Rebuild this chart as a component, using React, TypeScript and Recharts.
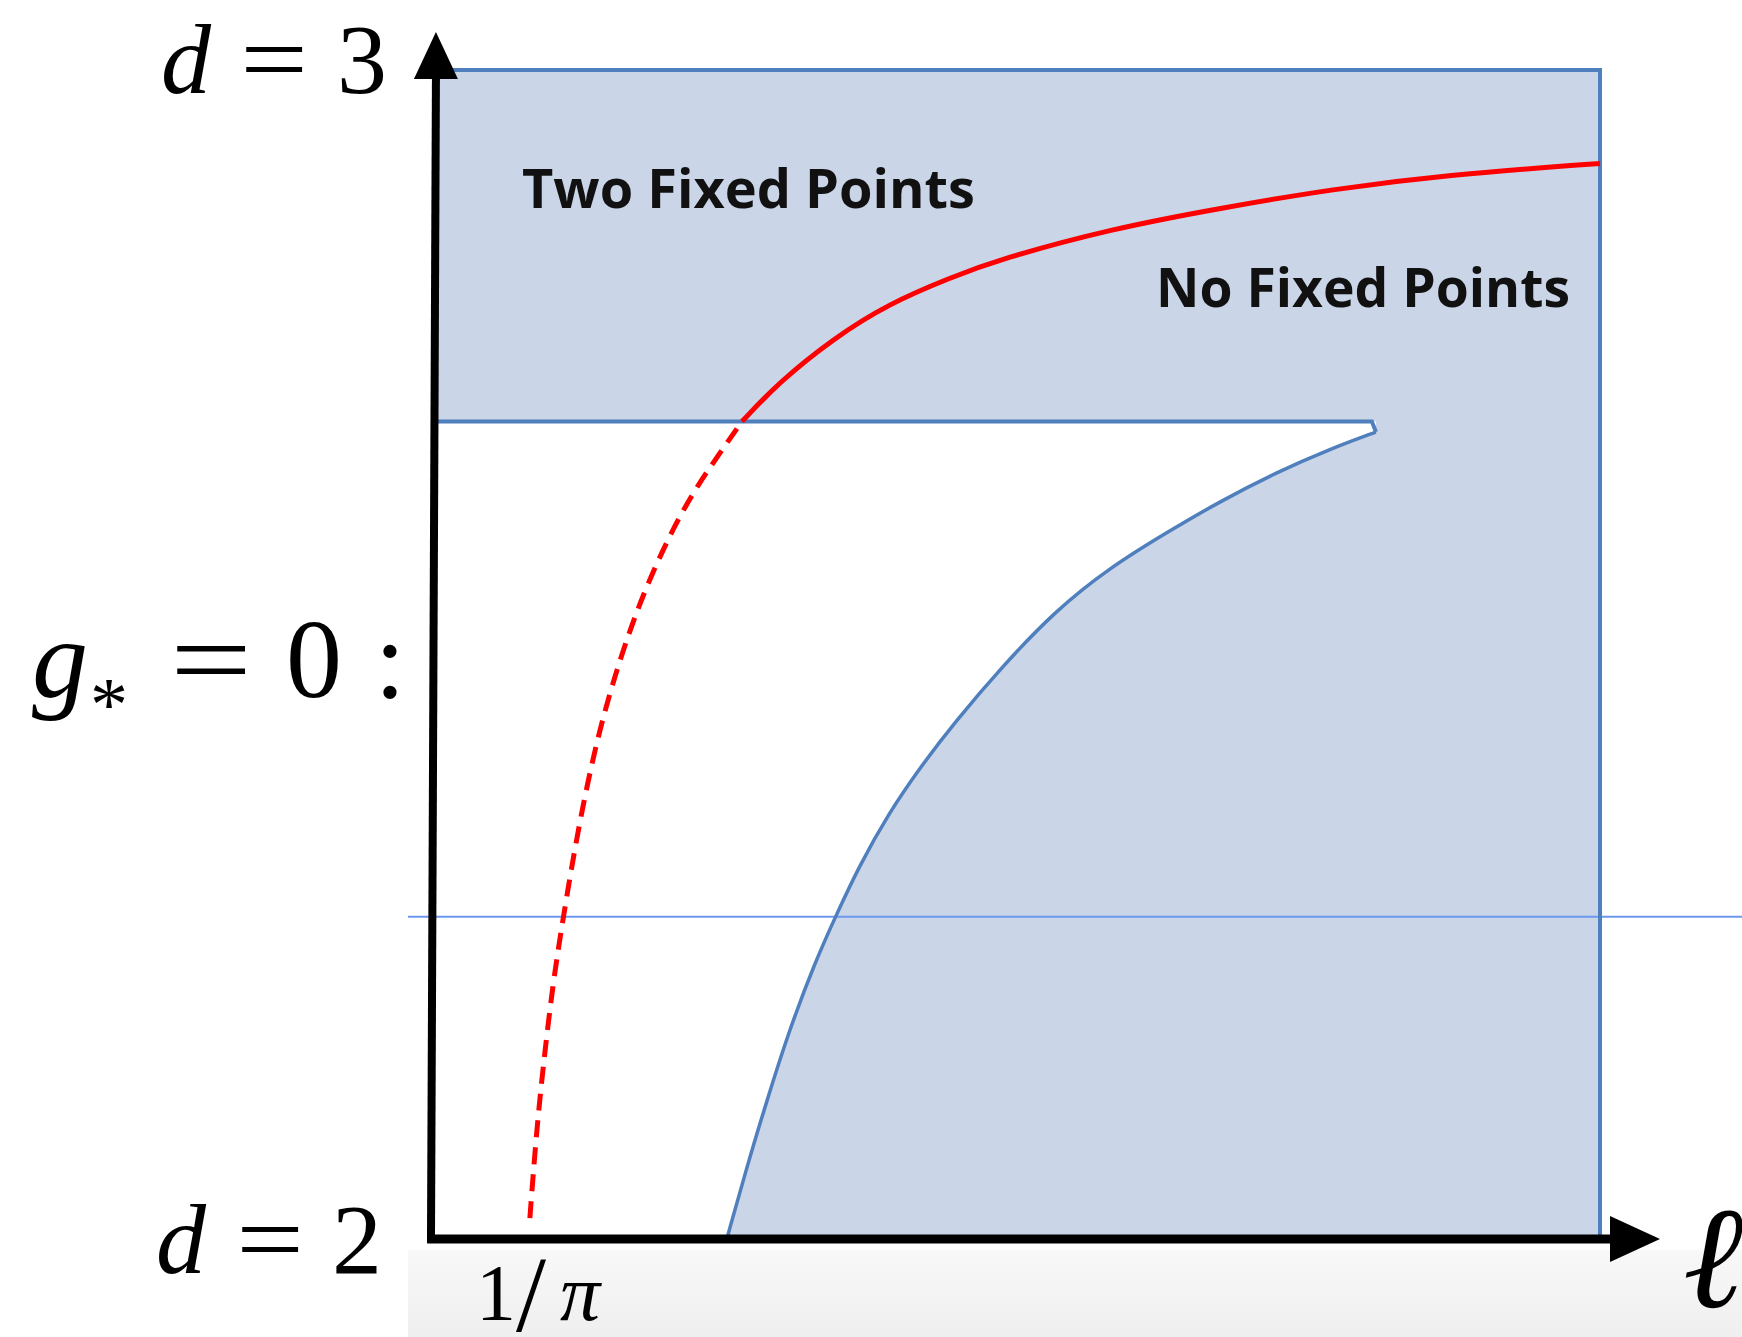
import React from 'react';
import {
    ComposedChart,
    Area,
    Line,
    XAxis,
    YAxis,
    ReferenceArea,
    ReferenceDot,
    Customized,
} from 'recharts';

// the chart works in (ell, d) units; the domains make the plot fill the whole picture
const W = 1742;
const H = 1337;
const ellDomain = [-1.4842, 4.4867];
const dDomain = [1.9152, 3.0599];

// region box and the two horizontal levels
const boxEll = [0, 4];
const boxD = [2, 3];
const dCross = 2.699; // top edge of the white pocket
const thinEll = [-0.086, 4.487];
const dThin = 2.275; // thin guide line

// red curve, dashed part (below the crossing)
const redDashedEll = [0.332, 0.353, 0.377, 0.411, 0.446, 0.497, 0.562, 0.641, 0.734, 0.853, 0.949, 1.059];
const redDashedD = [2.017, 2.086, 2.146, 2.218, 2.274, 2.35, 2.428, 2.497, 2.561, 2.623, 2.66, 2.699];

// red curve, solid part
const redSolidEll = [1.059, 1.183, 1.371, 1.563, 1.772, 1.943, 2.324, 2.704, 3.085, 3.465, 4.0];
const redSolidD = [2.699, 2.732, 2.77, 2.8, 2.822, 2.838, 2.864, 2.882, 2.898, 2.91, 2.92];

// blue boundary curve
const blueEll = [1.008, 1.076, 1.145, 1.217, 1.309, 1.385, 1.46, 1.563, 1.67, 1.79, 1.95, 2.133, 2.32, 2.515, 2.7, 2.896, 3.07, 3.232];
const blueD = [2.0, 2.061, 2.118, 2.175, 2.236, 2.278, 2.318, 2.364, 2.403, 2.442, 2.489, 2.537, 2.574, 2.604, 2.631, 2.656, 2.675, 2.69];

// horizontal edge with its small notch at the right end
const edgeEll = [0, 3.218, 3.232];
const edgeD = [2.699, 2.699, 2.69];

// the two arrows (axes)
const yAxisEll = [-0.007, 0.01];
const yAxisD = [1.9957, 2.993];
const yTip = { l: 0.01, d: 3.0325 };
const xAxisEll = [-0.02, 4.05];
const xAxisD = [1.9991, 1.9991];
const xTip = { l: 4.2057, d: 1.9991 };

// grey strip under the axis
const stripEll = [-0.086, 4.487];
const stripD = [1.9152, 1.9897];

const regionLabels = ['Two Fixed Points', 'No Fixed Points'];
const tickLabel = ['1', '/', 'π'];

const FILL = '#cad5e8';
const EDGE = '#4f7fbc';
const RED = '#ff0000';
const serif = "'Liberation Serif', 'DejaVu Serif', serif";

const zip = (ls: number[], ds: number[]) => ls.map((l, i) => ({ l, d: ds[i] }));

const boxData = boxEll.map((l) => ({ l, band: [boxD[0], boxD[1]] }));
// the corner point is repeated so the basis curve keeps the sharp corner there
const whiteData = [
    { l: 0, band: [2, dCross] },
    { l: blueEll[0], band: [blueD[0], dCross] },
    { l: blueEll[0], band: [blueD[0], dCross] },
    ...blueEll.map((l, i) => ({ l, band: [blueD[i], dCross] })),
];
const borderData = [
    { l: boxEll[0], d: boxD[1] },
    { l: boxEll[1], d: boxD[1] },
    { l: boxEll[1], d: boxD[0] },
];

function Glyph({ x, y, size, italic, sx = 1, children }: any) {
    return (
        <text
            transform={`translate(${x},${y}) scale(${sx},1)`}
            textAnchor="middle"
            fontFamily={serif}
            fontSize={size}
            fontStyle={italic ? 'italic' : 'normal'}
            fill="#000"
        >
            {children}
        </text>
    );
}

function Defs() {
    return (
        <defs>
            <linearGradient id="greyFade" x1="0" y1="0" x2="0" y2="1">
                <stop offset="0%" stopColor="#f8f8f8" />
                <stop offset="100%" stopColor="#efefef" />
            </linearGradient>
        </defs>
    );
}

// texts sit in an svg laid over the chart so the shaded areas never hide them
function Labels() {
    return (
        <svg
            width={W}
            height={H}
            style={{ position: 'absolute', left: 0, top: 0, pointerEvents: 'none' }}
        >
            {/* d = 3 */}
            <Glyph x={186} y={93} size={100} italic>d</Glyph>
            <Glyph x={274} y={93} size={100} sx={1.2}>=</Glyph>
            <Glyph x={362} y={93} size={100}>3</Glyph>
            {/* g* = 0 : */}
            <Glyph x={60} y={697} size={112} italic>g</Glyph>
            <Glyph x={109} y={730} size={76}>*</Glyph>
            <Glyph x={211} y={697} size={112} sx={1.3}>=</Glyph>
            <Glyph x={314} y={697} size={112}>0</Glyph>
            <Glyph x={390} y={697} size={112}>:</Glyph>
            {/* d = 2 */}
            <Glyph x={181} y={1273} size={100} italic>d</Glyph>
            <Glyph x={270} y={1273} size={100} sx={1.2}>=</Glyph>
            <Glyph x={357} y={1273} size={100}>2</Glyph>
            {/* 1/pi */}
            <Glyph x={496} y={1320} size={80}>{tickLabel[0]}</Glyph>
            <Glyph x={531} y={1331} size={108}>{tickLabel[1]}</Glyph>
            <Glyph x={580} y={1320} size={80} italic>{tickLabel[2]}</Glyph>
            {/* ell */}
            <text x={1683} y={1307} fontFamily={serif} fontSize={145} fontStyle="italic" fill="#000">
                ℓ
            </text>
            <text
                x={522}
                y={208}
                fontFamily="'Open Sans', sans-serif"
                fontWeight={700}
                fontSize={54}
                textLength={453}
                lengthAdjust="spacingAndGlyphs"
                fill="#111"
            >
                {regionLabels[0]}
            </text>
            <text
                x={1156}
                y={307}
                fontFamily="'Open Sans', sans-serif"
                fontWeight={700}
                fontSize={54}
                textLength={414}
                lengthAdjust="spacingAndGlyphs"
                fill="#111"
            >
                {regionLabels[1]}
            </text>
        </svg>
    );
}

const UpArrow = ({ cx, cy }: any) => (
    <polygon points={`${cx},${cy} ${cx - 22},${cy + 47} ${cx + 22},${cy + 47}`} fill="#000" />
);
const RightArrow = ({ cx, cy }: any) => (
    <polygon points={`${cx},${cy} ${cx - 50},${cy - 23} ${cx - 50},${cy + 23}`} fill="#000" />
);

export default function App() {
    return (
        <div style={{ position: 'absolute', left: 0, top: 0, width: W, height: H, background: '#fff' }}>
            <ComposedChart width={W} height={H} margin={{ top: 0, right: 0, bottom: 0, left: 0 }}>
                <XAxis type="number" dataKey="l" domain={ellDomain} allowDataOverflow hide />
                <YAxis type="number" domain={dDomain} allowDataOverflow hide />
                <Customized component={Defs} />
                <ReferenceArea
                    x1={stripEll[0]}
                    x2={stripEll[1]}
                    y1={stripD[0]}
                    y2={stripD[1]}
                    fill="url(#greyFade)"
                    fillOpacity={1}
                    stroke="none"
                    ifOverflow="visible"
                />
                {/* shaded box, then the white pocket on top */}
                <Area
                    data={boxData}
                    dataKey="band"
                    type="linear"
                    fill={FILL}
                    fillOpacity={1}
                    stroke="none"
                    isAnimationActive={false}
                />
                <Area
                    data={whiteData}
                    dataKey="band"
                    type="basis"
                    fill="#ffffff"
                    fillOpacity={1}
                    stroke="none"
                    isAnimationActive={false}
                />
                <Line
                    data={zip(thinEll, [dThin, dThin])}
                    dataKey="d"
                    type="linear"
                    stroke="#6b98ee"
                    strokeWidth={2}
                    dot={false}
                    activeDot={false}
                    isAnimationActive={false}
                />
                <Line
                    data={zip(edgeEll, edgeD)}
                    dataKey="d"
                    type="linear"
                    stroke={EDGE}
                    strokeWidth={4}
                    dot={false}
                    activeDot={false}
                    isAnimationActive={false}
                />
                <Line
                    data={zip(blueEll, blueD)}
                    dataKey="d"
                    type="basis"
                    stroke={EDGE}
                    strokeWidth={3.5}
                    dot={false}
                    activeDot={false}
                    isAnimationActive={false}
                />
                <Line
                    data={borderData}
                    dataKey="d"
                    type="linear"
                    stroke={EDGE}
                    strokeWidth={4}
                    dot={false}
                    activeDot={false}
                    isAnimationActive={false}
                />
                <Line
                    data={zip(redDashedEll, redDashedD)}
                    dataKey="d"
                    type="basis"
                    stroke={RED}
                    strokeWidth={5}
                    strokeDasharray="17 10"
                    dot={false}
                    activeDot={false}
                    isAnimationActive={false}
                />
                <Line
                    data={zip(redSolidEll, redSolidD)}
                    dataKey="d"
                    type="basis"
                    stroke={RED}
                    strokeWidth={5}
                    dot={false}
                    activeDot={false}
                    isAnimationActive={false}
                />
                <Line
                    data={zip(yAxisEll, yAxisD)}
                    dataKey="d"
                    type="linear"
                    stroke="#000"
                    strokeWidth={8}
                    dot={false}
                    activeDot={false}
                    isAnimationActive={false}
                />
                <Line
                    data={zip(xAxisEll, xAxisD)}
                    dataKey="d"
                    type="linear"
                    stroke="#000"
                    strokeWidth={9}
                    dot={false}
                    activeDot={false}
                    isAnimationActive={false}
                />
                <ReferenceDot x={yTip.l} y={yTip.d} ifOverflow="visible" shape={UpArrow} />
                <ReferenceDot x={xTip.l} y={xTip.d} ifOverflow="visible" shape={RightArrow} />
            </ComposedChart>
            <Labels />
        </div>
    );
}
